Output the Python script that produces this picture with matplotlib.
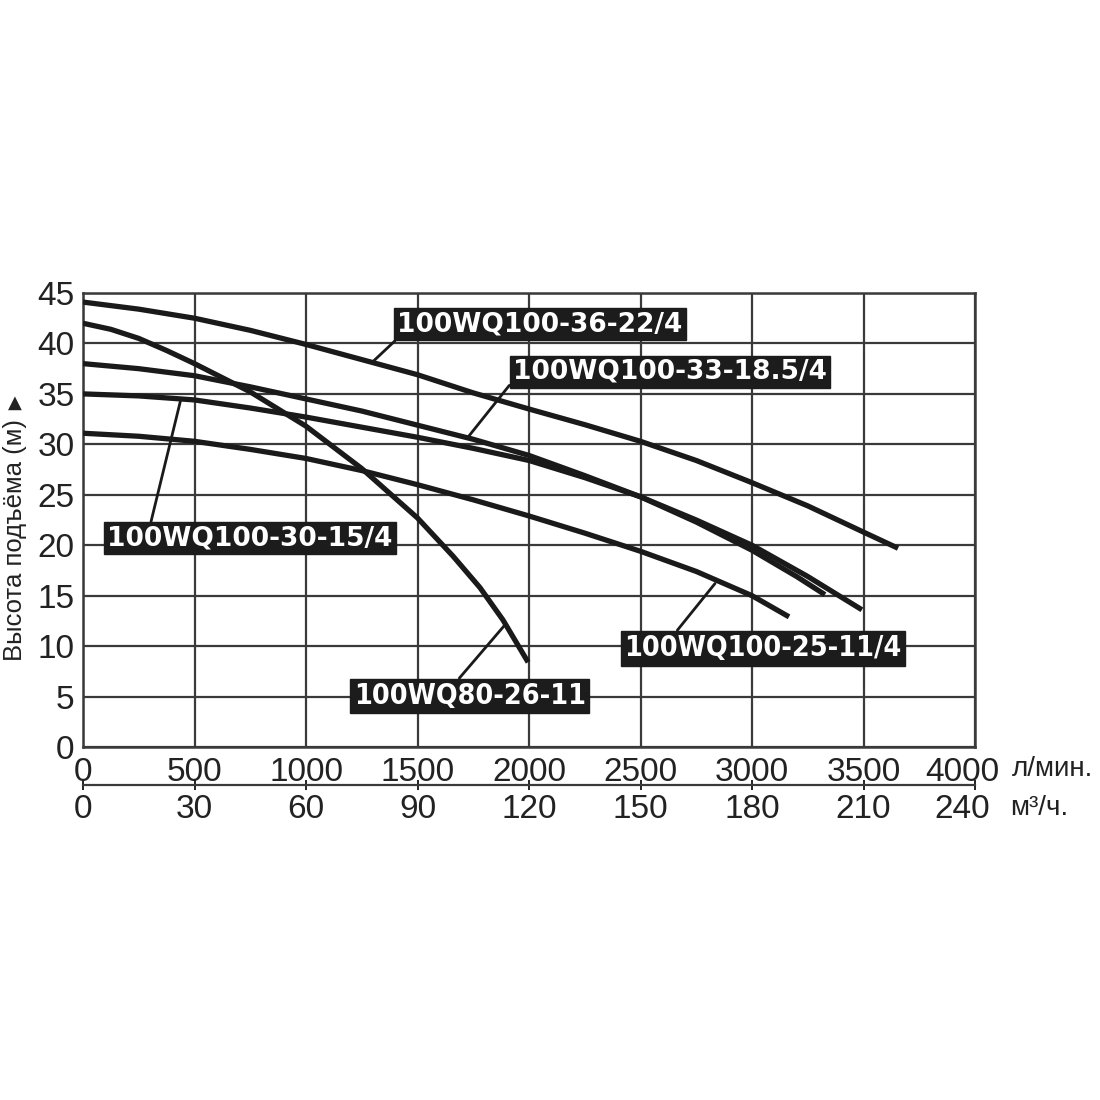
import matplotlib.pyplot as plt
from matplotlib.transforms import ScaledTranslation

plt.rcParams['font.family'] = ['Liberation Sans', 'DejaVu Sans']

# curves: flow (l/min) -> head (m)
q_36_22 = [0, 250, 500, 750, 1000, 1250, 1500, 1750, 2000, 2250, 2500,
           2750, 3000, 3250, 3500, 3655]
h_36_22 = [44.1, 43.4, 42.5, 41.3, 39.9, 38.4, 36.9, 35.1, 33.5, 31.95, 30.3,
           28.4, 26.2, 23.9, 21.3, 19.7]

q_33_18 = [0, 250, 500, 750, 1000, 1250, 1500, 1750, 2000, 2250, 2500,
           2750, 3000, 3250, 3493]
h_33_18 = [38.0, 37.5, 36.8, 35.7, 34.5, 33.3, 31.9, 30.5, 28.9, 26.9, 24.8,
           22.5, 20.0, 16.9, 13.6]

q_30_15 = [0, 250, 500, 750, 1000, 1250, 1500, 1750, 2000, 2250, 2500,
           2750, 3000, 3200, 3327]
h_30_15 = [35.0, 34.8, 34.4, 33.6, 32.7, 31.7, 30.7, 29.6, 28.4, 26.7, 24.8,
           22.3, 19.5, 16.9, 15.1]

q_25_11 = [0, 250, 500, 750, 1000, 1250, 1500, 1750, 2000, 2250, 2500,
           2750, 3000, 3166]
h_25_11 = [31.1, 30.8, 30.3, 29.5, 28.6, 27.4, 26.0, 24.5, 22.9, 21.2, 19.4,
           17.4, 15.0, 12.9]

q_80_26 = [0, 125, 250, 375, 500, 750, 1000, 1250, 1500, 1660, 1780, 1883, 1996]
h_80_26 = [42.0, 41.4, 40.5, 39.3, 38.0, 35.2, 31.8, 27.6, 22.7, 18.9, 15.8,
           12.6, 8.4]

curves = [(q_36_22, h_36_22), (q_33_18, h_33_18), (q_30_15, h_30_15),
          (q_25_11, h_25_11), (q_80_26, h_80_26)]

# labels: text, box centre, point on curve, leader start on box
labels = ['100WQ100-36-22/4', '100WQ100-33-18.5/4', '100WQ100-30-15/4',
          '100WQ100-25-11/4', '100WQ80-26-11']
label_xy = [(2049, 41.9), (2632, 37.2), (749, 20.7), (3049, 9.8), (1735, 5.05)]
point_xy = [(1300, 38.2), (1726, 30.7), (438, 34.4), (2834, 16.2), (1892, 12.1)]
rel_pos = [(0.01, 0.05), (0.0, 0.15), (0.15, 1.0), (0.18, 1.0), (0.44, 1.0)]
narrow = [False, False, False, True, True]

lpm_ticks = list(range(0, 4001, 500))
m3h_ticks = list(range(0, 241, 30))
head_ticks = list(range(0, 46, 5))

grid_c = '#3a3a3a'
text_c = '#222222'

fig = plt.figure(figsize=(11, 11), dpi=100)
ax = fig.add_axes([83 / 1100, 1 - 747 / 1100, 892 / 1100, 454 / 1100])
ax.set_xlim(0, 4000)
ax.set_ylim(0, 45)
ax.set_xticks(lpm_ticks)
ax.set_yticks(head_ticks)
ax.tick_params(length=0, labelsize=24, colors=text_c)
ax.tick_params(axis='x', pad=7)
ax.tick_params(axis='y', pad=6)
ax.grid(True, color=grid_c, lw=1.6)
for s in ax.spines.values():
    s.set_color(grid_c)
    s.set_linewidth(1.8)

for q, h in curves:
    ax.plot(q, h, color='#1a1a1a', lw=3.8, solid_capstyle='butt', zorder=3)

for txt, lxy, pxy, rp, nr in zip(labels, label_xy, point_xy, rel_pos, narrow):
    ax.annotate(txt, xy=pxy, xytext=lxy, ha='center', va='center',
                color='white', fontsize=20.5 if nr else 19, fontweight='bold',
                family=['DejaVu Sans'],
                fontstretch='condensed' if nr else 'normal', zorder=5,
                bbox=dict(boxstyle='square,pad=0.12', fc='#1c1c1c', ec='#1c1c1c'),
                arrowprops=dict(arrowstyle='-', color='#1a1a1a', lw=2,
                                relpos=rp, shrinkA=0, shrinkB=0))

# second flow scale in m3/h
ax2 = ax.twiny()
ax2.set_xlim(0, 240)
ax2.set_xticks(m3h_ticks)
ax2.xaxis.set_ticks_position('bottom')
ax2.xaxis.set_label_position('bottom')
ax2.spines['bottom'].set_position(('outward', 27))
for k in ['top', 'left', 'right']:
    ax2.spines[k].set_visible(False)
ax2.spines['bottom'].set_color(grid_c)
ax2.spines['bottom'].set_linewidth(1.6)
ax2.tick_params(axis='x', direction='inout', length=7, width=1.4,
                labelsize=24, pad=3, colors=text_c)

# last labels sit a little left so the unit text fits after them
shift = ScaledTranslation(-9 / 72, 0, fig.dpi_scale_trans)
for lbl in [ax.get_xticklabels()[-1], ax2.get_xticklabels()[-1]]:
    lbl.set_transform(lbl.get_transform() + shift)

fig.text(1012 / 1100, 1 - 769 / 1100, 'л/мин.', fontsize=20, va='center',
         ha='left', color=text_c)
fig.text(1010 / 1100, 1 - 808 / 1100, 'м³/ч.', fontsize=20, va='center',
         ha='left', color=text_c)

fig.text(15 / 1100, 1 - 540 / 1100, 'Высота подъёма (м)', rotation=90,
         fontsize=18.5, va='center', ha='center', color=text_c)
fig.text(15 / 1100, 1 - 403 / 1100, '▲', fontsize=13, va='center',
         ha='center', color=text_c, family=['DejaVu Sans'])

fig.savefig('out.png', dpi=100, facecolor='white')
